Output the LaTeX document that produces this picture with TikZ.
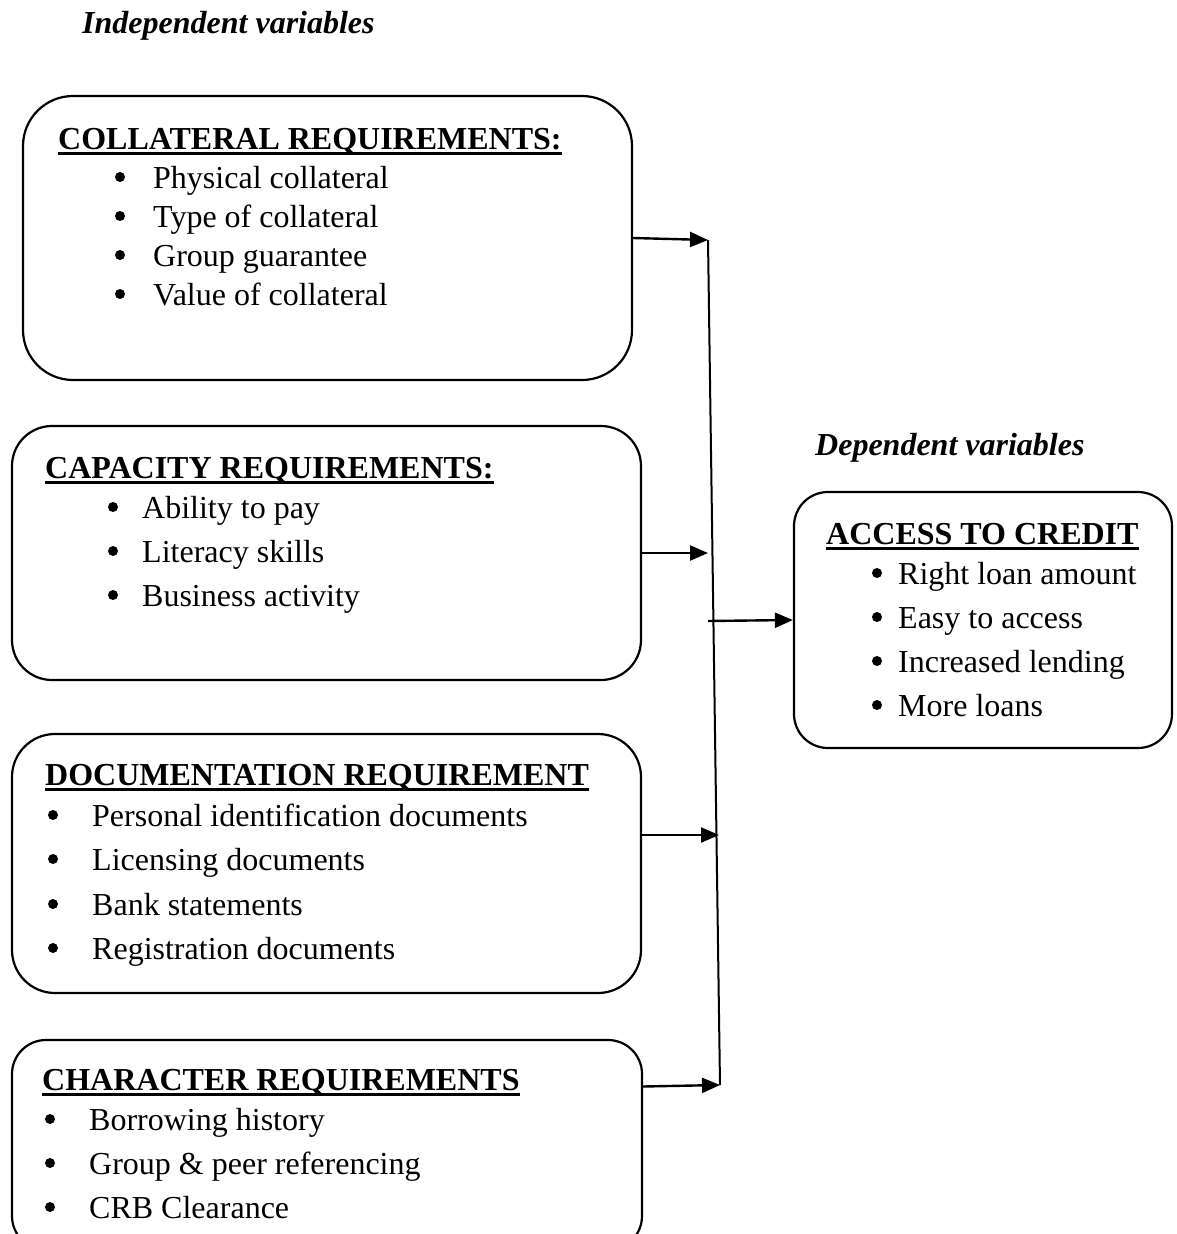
\documentclass[tikz,border=0pt]{standalone}
\usepackage{fontspec}
\setmainfont{Liberation Serif}
\usetikzlibrary{arrows.meta}
\begin{document}
\begin{tikzpicture}[x=1pt,y=-1pt,
  txt/.style={anchor=base west,inner sep=0pt,font=\fontsize{32pt}{38pt}\selectfont},
  ttl/.style={anchor=base west,inner sep=0pt,font=\fontsize{32pt}{38pt}\selectfont\bfseries},
  hdr/.style={anchor=base west,inner sep=0pt,font=\fontsize{32pt}{38pt}\selectfont\bfseries\itshape},
  box/.style={draw,line width=2.2pt,rectangle,inner sep=0pt},
  bul/.style={circle,fill,inner sep=0pt,minimum size=10pt},
  uline/.style={line width=2.4pt},
  arr/.style={line width=2.4pt,-{Triangle[length=18pt,width=15pt]}},
  spine/.style={line width=2pt}]
\useasboundingbox (0,0) rectangle (1177,1234);

% headers
\node[hdr] (hind) at (82,33) {Independent variables};
\node[hdr] (hdep) at (815,455) {Dependent variables};

% boxes
\node[box,rounded corners=50pt,minimum width=609pt,minimum height=284pt] (b1) at (327.5,238) {};
\node[box,rounded corners=40pt,minimum width=629pt,minimum height=254pt] (b2) at (326.5,553) {};
\node[box,rounded corners=43pt,minimum width=629pt,minimum height=259pt] (b3) at (326.5,863.5) {};
\node[box,rounded corners=34pt,minimum width=630pt,minimum height=210pt] (b4) at (327,1145) {};
\node[box,rounded corners=34pt,minimum width=378pt,minimum height=256pt] (br) at (983,620) {};

% titles
\node[ttl] (t1) at (58,149) {COLLATERAL REQUIREMENTS:};
\node[ttl] (t2) at (45,478) {CAPACITY REQUIREMENTS:};
\node[ttl] (t3) at (45,785) {DOCUMENTATION REQUIREMENT};
\node[ttl] (t4) at (42,1090) {CHARACTER REQUIREMENTS};
\node[ttl] (tr) at (826,544) {ACCESS TO CREDIT};
\foreach \t in {t1,t2,t3,t4,tr}
  \draw[uline] ([yshift=-4.5pt]\t.base west) -- ([yshift=-4.5pt]\t.base east);

% items box 1
\foreach \y/\s [count=\i] in {188/Physical collateral,227/Type of collateral,266/Group guarantee,305/Value of collateral}{
  \node[bul] (p1-\i) at (120,\y-11) {};
  \node[txt] (i1-\i) at (153,\y) {\s};
}
% items box 2
\foreach \y/\s [count=\i] in {518/Ability to pay,562/Literacy skills,606/Business activity}{
  \node[bul] (p2-\i) at (113,\y-11) {};
  \node[txt] (i2-\i) at (142,\y) {\s};
}
% items box 3
\foreach \y/\s [count=\i] in {826/Personal identification documents,870/Licensing documents,915/Bank statements,959/Registration documents}{
  \node[bul] (p3-\i) at (53,\y-11) {};
  \node[txt] (i3-\i) at (92,\y) {\s};
}
% items box 4
\foreach \y/\s [count=\i] in {1130/Borrowing history,1174/Group \& peer referencing,1218/CRB Clearance}{
  \node[bul] (p4-\i) at (50,\y-11) {};
  \node[txt] (i4-\i) at (89,\y) {\s};
}
% items right box
\foreach \y/\s [count=\i] in {584/Right loan amount,628/Easy to access,672/Increased lending,716/More loans}{
  \node[bul] (pr-\i) at (877,\y-11) {};
  \node[txt] (ir-\i) at (898,\y) {\s};
}

% connectors
\coordinate (s1) at (708,240);
\coordinate (s2) at (708,553);
\coordinate (s3) at (708,621);
\coordinate (s4) at (719,835);
\coordinate (s5) at (720,1085);
\draw[spine] (s1) -- (s5);
\draw[arr] (b1.east) -- (s1);
\draw[arr] (b2.east) -- (s2);
\draw[arr] (s3) -- (br.west);
\draw[arr] (b3.east |- s4) -- (s4);
\draw[arr] ([yshift=-1.5pt]b4.east |- s5) -- (s5);
\end{tikzpicture}
\end{document}
